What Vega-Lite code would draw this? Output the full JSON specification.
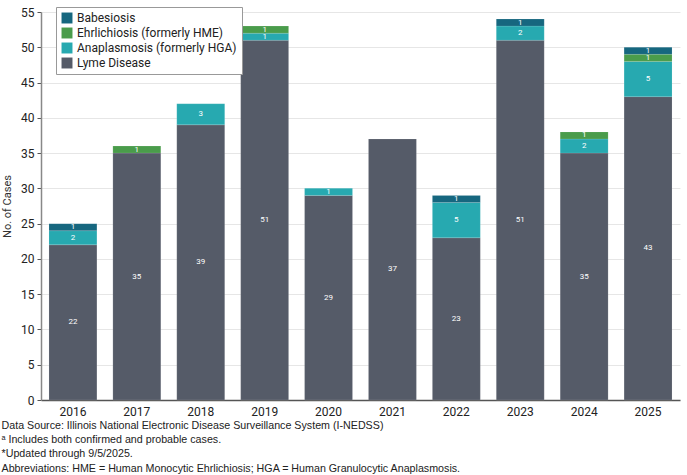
{
  "$schema": "https://vega.github.io/schema/vega-lite/v6.json",
  "width": 639,
  "height": 388,
  "autosize": {"type": "none"},
  "padding": {"left": 41, "top": 12, "right": 7, "bottom": 75},
  "config": {
    "view": {"stroke": null},
    "font": "Roboto",
    "axis": {"labelFont": "Roboto", "titleFont": "Roboto"}
  },
  "title": {
    "text": [
      "Data Source: Illinois National Electronic Disease Surveillance System (I-NEDSS)",
      "ᵃ Includes both confirmed and probable cases.",
      "*Updated through 9/5/2025.",
      "Abbreviations: HME = Human Monocytic Ehrlichiosis; HGA = Human Granulocytic Anaplasmosis."
    ],
    "orient": "bottom",
    "anchor": "start",
    "frame": "bounds",
    "dx": 0,
    "offset": 4,
    "font": "Liberation Sans",
    "fontSize": 10.7,
    "fontWeight": "normal",
    "lineHeight": 14.2,
    "color": "#222222"
  },
  "data": {
    "values": [
      {"year": "2016", "disease": "Lyme Disease", "cases": 22, "ord": 1},
      {"year": "2016", "disease": "Anaplasmosis (formerly HGA)", "cases": 2, "ord": 2},
      {"year": "2016", "disease": "Babesiosis", "cases": 1, "ord": 4},
      {"year": "2017", "disease": "Lyme Disease", "cases": 35, "ord": 1},
      {"year": "2017", "disease": "Ehrlichiosis (formerly HME)", "cases": 1, "ord": 3},
      {"year": "2018", "disease": "Lyme Disease", "cases": 39, "ord": 1},
      {"year": "2018", "disease": "Anaplasmosis (formerly HGA)", "cases": 3, "ord": 2},
      {"year": "2019", "disease": "Lyme Disease", "cases": 51, "ord": 1},
      {"year": "2019", "disease": "Anaplasmosis (formerly HGA)", "cases": 1, "ord": 2},
      {"year": "2019", "disease": "Ehrlichiosis (formerly HME)", "cases": 1, "ord": 3},
      {"year": "2020", "disease": "Lyme Disease", "cases": 29, "ord": 1},
      {"year": "2020", "disease": "Anaplasmosis (formerly HGA)", "cases": 1, "ord": 2},
      {"year": "2021", "disease": "Lyme Disease", "cases": 37, "ord": 1},
      {"year": "2022", "disease": "Lyme Disease", "cases": 23, "ord": 1},
      {"year": "2022", "disease": "Anaplasmosis (formerly HGA)", "cases": 5, "ord": 2},
      {"year": "2022", "disease": "Babesiosis", "cases": 1, "ord": 4},
      {"year": "2023", "disease": "Lyme Disease", "cases": 51, "ord": 1},
      {"year": "2023", "disease": "Anaplasmosis (formerly HGA)", "cases": 2, "ord": 2},
      {"year": "2023", "disease": "Babesiosis", "cases": 1, "ord": 4},
      {"year": "2024", "disease": "Lyme Disease", "cases": 35, "ord": 1},
      {"year": "2024", "disease": "Anaplasmosis (formerly HGA)", "cases": 2, "ord": 2},
      {"year": "2024", "disease": "Ehrlichiosis (formerly HME)", "cases": 1, "ord": 3},
      {"year": "2025", "disease": "Lyme Disease", "cases": 43, "ord": 1},
      {"year": "2025", "disease": "Anaplasmosis (formerly HGA)", "cases": 5, "ord": 2},
      {"year": "2025", "disease": "Ehrlichiosis (formerly HME)", "cases": 1, "ord": 3},
      {"year": "2025", "disease": "Babesiosis", "cases": 1, "ord": 4}
    ]
  },
  "encoding": {
    "x": {
      "field": "year",
      "type": "ordinal",
      "scale": {"paddingInner": 0.25, "paddingOuter": 0.125},
      "axis": {
        "title": null,
        "labelAngle": 0,
        "labelFontSize": 12,
        "labelColor": "#222222",
        "labelPadding": 6,
        "ticks": false,
        "domainColor": "#555555",
        "domainWidth": 1.5
      }
    },
    "y": {
      "field": "cases",
      "type": "quantitative",
      "stack": "zero",
      "scale": {"domain": [0, 55], "nice": false},
      "axis": {
        "title": "No. of Cases",
        "titleFontSize": 11,
        "titleFontWeight": "normal",
        "titleColor": "#333333",
        "titlePadding": 8,
        "values": [0, 5, 10, 15, 20, 25, 30, 35, 40, 45, 50, 55],
        "labelFontSize": 12,
        "labelColor": "#222222",
        "tickSize": 4,
        "tickColor": "#555555",
        "domainColor": "#888888",
        "domainWidth": 1.5,
        "gridColor": "#e6e6e6",
        "labelPadding": 3
      }
    },
    "order": {"field": "ord", "type": "quantitative"}
  },
  "layer": [
    {
      "mark": {"type": "bar", "stroke": "#ffffff", "strokeWidth": 0.3, "strokeOpacity": 0.4},
      "encoding": {
        "color": {
          "field": "disease",
          "type": "nominal",
          "scale": {
            "domain": ["Babesiosis", "Ehrlichiosis (formerly HME)", "Anaplasmosis (formerly HGA)", "Lyme Disease"],
            "range": ["#16677f", "#4a9c4b", "#27a9b0", "#555b68"]
          },
          "legend": {
            "title": null,
            "orient": "none",
            "legendX": 15,
            "legendY": -5,
            "symbolType": "square",
            "symbolSize": 120,
            "symbolStrokeWidth": 0,
            "labelFontSize": 12,
            "labelColor": "#222222",
            "rowPadding": 3,
            "padding": 5,
            "strokeColor": "#999999",
            "fillColor": "#ffffff",
            "labelLimit": 300,
            "symbolOffset": 0
          }
        }
      }
    },
    {
      "mark": {"type": "text", "color": "#ffffff", "fontSize": 8, "baseline": "middle"},
      "encoding": {
        "y": {"field": "cases", "type": "quantitative", "stack": "zero", "bandPosition": 0.5},
        "text": {"field": "cases", "type": "quantitative"}
      }
    }
  ]
}
